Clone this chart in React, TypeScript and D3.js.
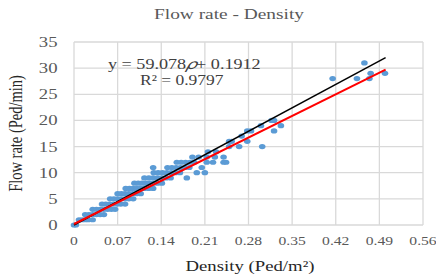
import React from "react";
import * as d3 from "d3";

const xTicks = [0, 0.07, 0.14, 0.21, 0.28, 0.35, 0.42, 0.49, 0.56];
const yTicks = [0, 5, 10, 15, 20, 25, 30, 35];

const densities = [
  0, 0.003,
  0.008, 0.013, 0.018, 0.023, 0.03,
  0.018, 0.024, 0.03, 0.036, 0.042, 0.048,
  0.03, 0.036, 0.042, 0.048, 0.054, 0.06, 0.066,
  0.045, 0.051, 0.057, 0.063, 0.069, 0.075, 0.082,
  0.058, 0.064, 0.07, 0.076, 0.082, 0.088, 0.095,
  0.07, 0.076, 0.082, 0.088, 0.094, 0.1, 0.107,
  0.083, 0.089, 0.095, 0.101, 0.107, 0.113, 0.12, 0.127,
  0.097, 0.103, 0.109, 0.115, 0.121, 0.127, 0.134, 0.141,
  0.113, 0.12, 0.127, 0.134, 0.141, 0.148, 0.155, 0.181,
  0.128, 0.135, 0.142, 0.149, 0.156, 0.163, 0.17, 0.197, 0.21,
  0.127, 0.15, 0.157, 0.164, 0.171, 0.178, 0.185, 0.205,
  0.165, 0.172, 0.179, 0.186, 0.193, 0.213, 0.223, 0.24, 0.244,
  0.19, 0.2, 0.213, 0.226, 0.24,
  0.215, 0.228,
  0.249, 0.265, 0.302,
  0.249, 0.253, 0.278,
  0.269,
  0.278, 0.284, 0.321,
  0.3, 0.332,
  0.317, 0.321,
  0.415, 0.454, 0.474,
  0.476, 0.499,
  0.466,
];
const flows = [
  0, 0,
  1, 1, 1, 1, 1,
  2, 2, 2, 2, 2, 2,
  3, 3, 3, 3, 3, 3, 3,
  4, 4, 4, 4, 4, 4, 4,
  5, 5, 5, 5, 5, 5, 5,
  6, 6, 6, 6, 6, 6, 6,
  7, 7, 7, 7, 7, 7, 7, 7,
  8, 8, 8, 8, 8, 8, 8, 8,
  9, 9, 9, 9, 9, 9, 9, 9,
  10, 10, 10, 10, 10, 10, 10, 10, 10,
  11, 11, 11, 11, 11, 11, 11, 11,
  12, 12, 12, 12, 12, 12, 12, 12, 12,
  13, 13, 13, 13, 13,
  14, 14,
  15, 15, 15,
  16, 16, 16,
  17,
  18, 18, 18,
  19, 19,
  20, 20,
  28, 28, 28,
  29, 29,
  31,
];

const fitRange = [0, 0.5];
const redCoef = [59.078, 0.1912];
const blackCoef = [64, 0];

const SX = 1.25;

function T(props: { x: number; y: number; anchor?: string; size: number; fill: string; children: React.ReactNode }) {
  return (
    <text
      transform={`translate(${props.x},${props.y}) scale(${SX},1)`}
      textAnchor={props.anchor ?? "start"}
      fontSize={props.size}
      fill={props.fill}
    >
      {props.children}
    </text>
  );
}

export default function App() {
  const W = 436, H = 274;
  const left = 74, right = 423, top = 42, bottom = 225;
  const x = d3.scaleLinear().domain([0, 0.56]).range([left, right]);
  const y = d3.scaleLinear().domain([0, 35]).range([bottom, top]);
  const redLine = d3.line<number>().x((d) => x(d)).y((d) => y(redCoef[0] * d + redCoef[1]));
  const blackLine = d3.line<number>().x((d) => x(d)).y((d) => y(blackCoef[0] * d + blackCoef[1]));
  const font = "'Liberation Serif', 'Times New Roman', serif";
  return (
    <svg width={W} height={H} style={{ position: "absolute", left: 0, top: 0 }} fontFamily={font}>
      <rect width={W} height={H} fill="#fff" />
      <T x={229} y={19} anchor="middle" size={15.5} fill="#595959">Flow rate - Density</T>
      {xTicks.map((t) => (
        <line key={"vx" + t} x1={x(t)} x2={x(t)} y1={top} y2={bottom} stroke="#d9d9d9" strokeWidth={1.3} />
      ))}
      {yTicks.map((t) => (
        <line key={"hy" + t} x1={left} x2={right} y1={y(t)} y2={y(t)} stroke="#d9d9d9" strokeWidth={1.3} />
      ))}
      {yTicks.map((t) => (
        <T key={"yl" + t} x={57.5} y={y(t) + 5} anchor="end" size={15} fill="#595959">{t}</T>
      ))}
      {xTicks.map((t) => (
        <T key={"xl" + t} x={x(t)} y={245} anchor="middle" size={12.5} fill="#595959">{String(t)}</T>
      ))}
      {densities.map((d, i) => (
        <ellipse key={i} cx={x(d)} cy={y(flows[i])} rx={3.3} ry={2.6} fill="#5b9bd5" />
      ))}
      <path d={blackLine(fitRange) ?? ""} stroke="#000" strokeWidth={1.5} fill="none" />
      <path d={redLine(fitRange) ?? ""} stroke="#ff0000" strokeWidth={2} fill="none" />
      <T x={108} y={69} size={14.5} fill="#404040">y = 59.078<tspan fontStyle="italic">𝜌</tspan>+ 0.1912</T>
      <T x={140} y={85} size={14} fill="#404040">R² = 0.9797</T>
      <T x={250} y={271} anchor="middle" size={15} fill="#262626">Density (Ped/m²)</T>
      <text transform={`translate(22,${(top + bottom) / 2}) rotate(-90) scale(1,${SX})`} textAnchor="middle" fontSize={14.5} fill="#262626">Flow rate (Ped/min)</text>
    </svg>
  );
}
